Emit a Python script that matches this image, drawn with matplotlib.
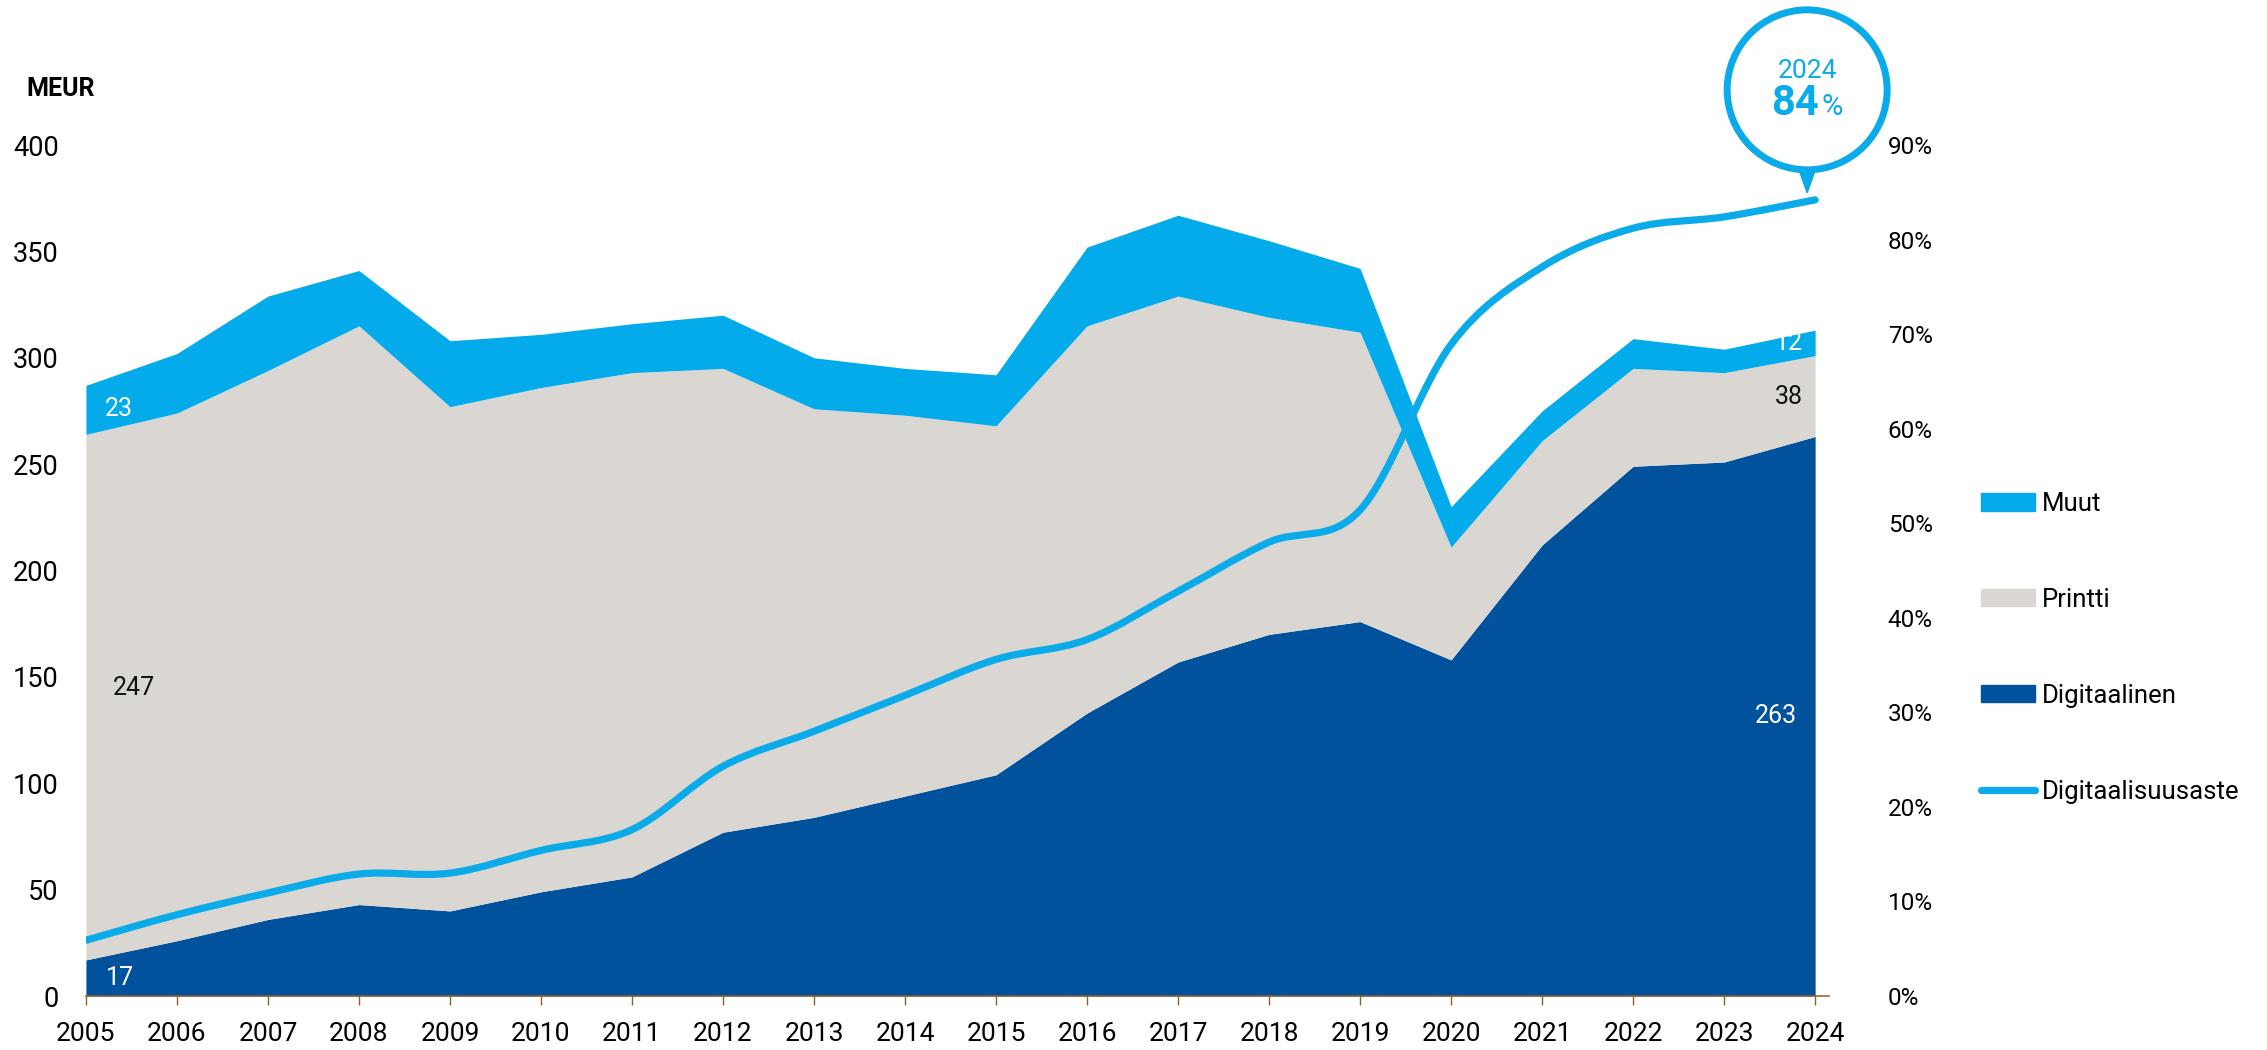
import numpy as np
import matplotlib.pyplot as plt
from matplotlib.path import Path
from matplotlib.patches import PathPatch, Circle, Polygon, Patch
from matplotlib.lines import Line2D
from matplotlib.transforms import ScaledTranslation

plt.rcParams['font.family'] = ['Roboto', 'DejaVu Sans']

years = list(range(2005, 2025))
digitaalinen = [17, 26, 36, 43, 40, 49, 56, 77, 84, 94, 104, 133, 157, 170, 176, 158, 212, 249, 251, 263]
printti = [247, 248, 258, 272, 237, 237, 237, 218, 192, 179, 164, 182, 172, 149, 136, 53, 49, 46, 42, 38]
muut = [23, 28, 35, 26, 31, 25, 23, 25, 24, 22, 24, 37, 38, 36, 30, 19, 14, 14, 11, 12]
digiaste = [5.9, 8.6, 10.9, 12.9, 13.0, 15.4, 17.6, 24.3, 28.0, 31.8, 35.6, 37.7, 42.8, 48.0, 51.4, 68.9, 77.1, 81.2, 82.4, 84.2]

c_muut = '#03abea'
c_print = '#dad7d3'
c_digi = '#00529c'
c_line = '#0aabe8'
c_axis = '#8f5f2a'


def smooth_path(xs, ys):
    # catmull-rom through the points, as cubic bezier segments
    pts = np.column_stack([xs, ys]).astype(float)
    n = len(pts)
    verts = [pts[0]]
    codes = [Path.MOVETO]
    for i in range(n - 1):
        p0 = pts[max(i - 1, 0)]
        p1 = pts[i]
        p2 = pts[i + 1]
        p3 = pts[min(i + 2, n - 1)]
        verts += [p1 + (p2 - p0) / 6, p2 - (p3 - p1) / 6, p2]
        codes += [Path.CURVE4] * 3
    return Path(verts, codes)


fig = plt.figure(figsize=(22.67, 10.5), dpi=100)
ax = fig.add_axes([0.0379, 0.0514, 0.7688, 0.8105])

d = np.array(digitaalinen)
p = d + np.array(printti)
m = p + np.array(muut)
ax.fill_between(years, 0, d, color=c_digi, lw=0)
ax.fill_between(years, d, p, color=c_print, lw=0)
ax.fill_between(years, p, m, color=c_muut, lw=0)

ax.set_xlim(2005, 2024.15)
ax.set_ylim(0, 400)
ax.set_xticks(years)
ax.set_yticks(range(0, 401, 50))
ax.tick_params(axis='x', length=6.5, width=1, color=c_axis, pad=12, labelsize=19)
ax.tick_params(axis='y', length=0, pad=19.5, labelsize=19.5)
for s in ['top', 'left', 'right']:
    ax.spines[s].set_visible(False)
ax.spines['bottom'].set_color(c_axis)
ax.spines['bottom'].set_linewidth(1.1)

# value labels
ax.text(2005.21, 276, '23', color='white', fontsize=18, ha='left', va='center')
ax.text(2005.3, 145, '247', color='#111111', fontsize=18, ha='left', va='center')
ax.text(2005.22, 8.5, '17', color='white', fontsize=18, ha='left', va='center')
ax.text(2023.8, 131.6, '263', color='white', fontsize=18, ha='right', va='center')
ax.text(2023.86, 281.5, '38', color='#111111', fontsize=18, ha='right', va='center')
ax.text(2023.87, 307, '12', color='white', fontsize=18, ha='right', va='center')

ax2 = ax.twinx()
ax2.set_ylim(0, 90)
ax2.set_yticks(range(0, 91, 10))
ax2.set_yticklabels([f'{v}%' for v in range(0, 91, 10)])
ax2.tick_params(axis='y', length=0, pad=42.5, labelsize=17.5)
for s in ax2.spines.values():
    s.set_visible(False)

line = PathPatch(smooth_path(years, digiaste), fill=False, edgecolor=c_line, lw=5.2,
                 capstyle='round', joinstyle='round')
ax2.add_patch(line)

# callout bubble at the last point (units: inches from the point)
off = fig.dpi_scale_trans + ScaledTranslation(years[-1], digiaste[-1], ax2.transData)
fig.add_artist(Circle((-0.08, 1.10), 0.80, transform=off, facecolor='white',
                      edgecolor=c_line, lw=5, zorder=5))
fig.add_artist(Polygon([(-0.165, 0.31), (0.005, 0.31), (-0.08, 0.07)], closed=True,
                       transform=off, color=c_line, zorder=5))
fig.text(-0.08, 1.22, str(years[-1]), transform=off, ha='center', va='baseline',
         color=c_line, fontsize=19, zorder=6)
fig.text(0.04, 0.85, f'{round(digiaste[-1])}', transform=off, ha='right', va='baseline',
         color=c_line, fontsize=30, fontweight='bold', zorder=6)
fig.text(0.06, 0.85, '%', transform=off, ha='left', va='baseline',
         color=c_line, fontsize=21, zorder=6)

fig.text(26 / 2267, 1 - 89 / 1050, 'MEUR', fontsize=18, fontweight='bold', ha='left', va='center')

handles = [Patch(color=c_muut), Patch(color=c_print), Patch(color=c_digi),
           Line2D([], [], color=c_line, lw=5.2, solid_capstyle='round')]
labels = ['Muut', 'Printti', 'Digitaalinen', 'Digitaalisuusaste']
ax2.legend(handles, labels, loc='upper left', bbox_to_anchor=(1981 / 2267, 1 - 492 / 1050),
           bbox_transform=fig.transFigure, frameon=False, fontsize=18.5, handlelength=2.1,
           handleheight=0.65, handletextpad=0.25, labelspacing=2.8, borderpad=0,
           borderaxespad=0)

fig.savefig('out.png', dpi=100)
